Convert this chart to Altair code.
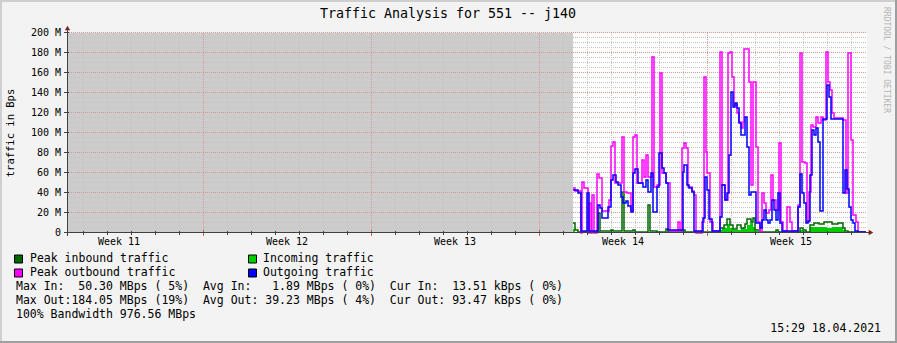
import altair as alt
import pandas as pd

# ---------------- data (x = hours since left edge of plot, values in M) ----------------
out_h = [506, 511, 514, 520, 522, 531, 533, 535, 541, 544, 546, 549, 551, 554, 556, 559, 561, 564,
         566, 568, 571, 576, 579, 581, 584, 586, 590, 592, 595, 597, 599, 601, 616, 617, 620, 622,
         625, 627, 636, 638, 640, 642, 645, 653, 655, 658, 660, 662, 664, 666, 668, 670, 672, 674,
         678, 680, 682, 684, 689, 693, 695, 697, 699, 701, 703, 705, 707, 709, 711, 713, 715, 731,
         733, 735, 737, 739, 741, 743, 745, 747, 749, 751, 753, 756, 760, 762, 764, 776, 778, 780,
         782, 784, 786, 788, 791, 799]
out_v = [43, 40, 2, 40, 2, 28, 25, 15, 26, 53, 58, 51, 48, 36, 30, 32, 27, 21,
         60, 64, 50, 46, 53, 41, 60, 21, 46, 80, 65, 60, 50, 3, 61, 68, 48, 45,
         41, 2, 15, 56, 43, 14, 2, 16, 48, 33, 40, 78, 141, 126, 130, 125, 110, 98,
         116, 86, 38, 41, 10, 5, 13, 23, 13, 10, 13, 33, 23, 13, 40, 10, 2, 26,
         59, 40, 30, 10, 12, 58, 103, 98, 105, 91, 22, 114, 148, 136, 114, 40, 63, 44,
         26, 13, 10, 2, 1, 1]

peakout_h = [506, 508, 514, 515, 517, 521, 522, 524, 525, 527, 530, 532, 535, 542, 544, 546, 548, 555,
             557, 560, 564, 566, 568, 570, 575, 577, 579, 581, 585, 587, 590, 593, 595, 599, 603, 611,
             613, 615, 617, 619, 621, 625, 627, 629, 635, 637, 639, 640, 643, 646, 653, 655, 658, 661,
             663, 665, 667, 670, 672, 674, 676, 677, 682, 684, 686, 689, 691, 693, 695, 697, 699, 702,
             704, 706, 709, 712, 714, 716, 720, 723, 725, 731, 733, 735, 738, 740, 742, 744, 746, 749,
             751, 754, 756, 759, 761, 763, 765, 767, 776, 779, 781, 784, 786, 789, 791, 799]
peakout_v = [45, 42, 0, 51, 45, 0, 30, 0, 38, 0, 59, 55, 22, 33, 87, 91, 50, 96,
             41, 40, 22, 96, 98, 50, 73, 56, 78, 56, 176, 46, 48, 160, 60, 50, 2, 11,
             2, 85, 90, 85, 46, 42, 38, 0, 11, 156, 81, 60, 11, 2, 181, 48, 33, 180,
             181, 156, 128, 120, 111, 105, 111, 184, 151, 48, 151, 86, 11, 1, 40, 30, 20, 23,
             58, 33, 23, 90, 11, 2, 26, 11, 2, 28, 180, 71, 70, 11, 41, 108, 106, 116,
             110, 116, 113, 181, 151, 143, 120, 115, 113, 40, 180, 93, 18, 11, 1, 1]

peakin_h = [506, 508, 511, 531, 533, 544, 546, 555, 557, 566, 568, 581, 583, 590, 599, 601, 616, 618,
            625, 653, 657, 660, 663, 666, 670, 674, 678, 680, 684, 686, 688, 693, 709, 711, 733, 736,
            739, 743, 747, 752, 757, 765, 771, 776, 778, 781, 799]
peakin_v = [10, 3, 1, 20, 2, 3, 2, 41, 2, 3, 1, 28, 2, 1, 4, 1, 3, 1,
            1, 5, 8, 14, 8, 4, 8, 5, 9, 14, 11, 15, 3, 1, 3, 1, 5, 3,
            1, 8, 10, 9, 11, 9, 10, 5, 2, 1, 1]

in_h = [506, 508, 531, 533, 555, 557, 581, 583, 653, 655, 660, 663, 666, 674, 677, 680, 683, 686,
        688, 693, 709, 711, 733, 736, 739, 743, 747, 760, 765, 776, 778, 799]
in_v = [4, 1, 2, 0.5, 1, 0.5, 1, 0.5, 3, 5, 9, 5, 3, 5, 4, 8, 10, 6,
        2, 1, 1, 0.5, 3, 2, 1, 6, 6, 5, 6, 3, 1, 1]

unknown_span = [0, 506]          # hours without data (grey)
y_ticks = [0, 20, 40, 60, 80, 100, 120, 140, 160, 180, 200]
week_names = ["Week 11", "Week 12", "Week 13", "Week 14", "Week 15"]
week_mid_h = [52, 220, 388, 556, 724]
week_start_h = [136, 304, 472, 640]
day_h = list(range(16, 800, 24))
minor_y = list(range(5, 200, 5))

legend_rows = [
    ("Peak inbound traffic", "#006600", "Incoming traffic", "#00cc00"),
    ("Peak outbound traffic", "#ff00ff", "Outgoing traffic", "#0000ff"),
]
stats = [
    "Max In:  50.30 MBps ( 5%)  Avg In:   1.89 MBps ( 0%)  Cur In:  13.51 kBps ( 0%)",
    "Max Out:184.05 MBps (19%)  Avg Out: 39.23 MBps ( 4%)  Cur Out: 93.47 kBps ( 0%)",
    "100% Bandwidth 976.56 MBps",
]
title = "Traffic Analysis for 551 -- j140"
stamp = "15:29 18.04.2021"

# ---------------- chart ----------------
FONT = "DejaVu Sans Mono"
XS = alt.Scale(domain=[0, 800], nice=False, zero=False)
YS = alt.Scale(domain=[0, 200], nice=False)


def nb(s):
    return s.replace(" ", "\u00a0")


def X(f="h"):
    return alt.X(f"{f}:Q", scale=XS, axis=None)


def Y(f="v"):
    return alt.Y(f"{f}:Q", scale=YS, axis=None)


def text(s, x, y, size=11.5, align="left", color="#000000", angle=0):
    return alt.Chart(pd.DataFrame({"t": [nb(s)]})).mark_text(
        align=align, baseline="middle", font=FONT, fontSize=size, color=color, angle=angle
    ).encode(x=alt.value(x), y=alt.value(y), text="t:N")


layers = []

# unknown area
layers.append(alt.Chart(pd.DataFrame({"a": [unknown_span[0]], "b": [unknown_span[1]], "lo": [0], "hi": [200]}))
              .mark_rect(color="#cccccc").encode(x=X("a"), x2="b", y=Y("lo"), y2="hi"))

# grid (half-pixel offsets keep the dotted lines crisp)
layers.append(alt.Chart(pd.DataFrame({"v": minor_y})).mark_rule(color="#c4c4c4", strokeDash=[1, 1], strokeWidth=1, yOffset=-0.5)
              .encode(y=Y("v"), x=alt.value(0), x2=alt.value(800)))
layers.append(alt.Chart(pd.DataFrame({"h": day_h})).mark_rule(color="#c4c4c4", strokeDash=[1, 1], strokeWidth=1, xOffset=0.5)
              .encode(x=X("h"), y=alt.value(0), y2=alt.value(200)))
layers.append(alt.Chart(pd.DataFrame({"v": y_ticks[1:]})).mark_rule(color="#d49a9a", strokeDash=[1, 1], strokeWidth=1, yOffset=-0.5)
              .encode(y=Y("v"), x=alt.value(0), x2=alt.value(800)))
layers.append(alt.Chart(pd.DataFrame({"h": week_start_h})).mark_rule(color="#d49a9a", strokeDash=[1, 1], strokeWidth=1, xOffset=0.5)
              .encode(x=X("h"), y=alt.value(0), y2=alt.value(200)))

# series
LW = 1.5
layers.append(alt.Chart(pd.DataFrame({"h": in_h, "v": in_v})).mark_area(interpolate="step-after", color="#00cc00", opacity=1)
              .encode(x=X(), y=Y()))
layers.append(alt.Chart(pd.DataFrame({"h": peakin_h, "v": peakin_v})).mark_line(interpolate="step-after", color="#006600", strokeWidth=LW)
              .encode(x=X(), y=Y()))
layers.append(alt.Chart(pd.DataFrame({"h": peakout_h, "v": peakout_v})).mark_line(interpolate="step-after", color="#ff00ff", strokeWidth=LW)
              .encode(x=X(), y=Y()))
layers.append(alt.Chart(pd.DataFrame({"h": out_h, "v": out_v})).mark_line(interpolate="step-after", color="#0000ff", strokeWidth=LW)
              .encode(x=X(), y=Y()))

# axes lines, ticks and arrows
AX = "#404040"
layers.append(alt.Chart(pd.DataFrame({"h": day_h})).mark_rule(color=AX, xOffset=0.5)
              .encode(x=X("h"), y=alt.value(198), y2=alt.value(202)))
layers.append(alt.Chart(pd.DataFrame({"h": week_start_h})).mark_rule(color="#c06060", xOffset=0.5)
              .encode(x=X("h"), y=alt.value(197), y2=alt.value(203)))
layers.append(alt.Chart(pd.DataFrame({"v": y_ticks})).mark_rule(color=AX, yOffset=-0.5)
              .encode(y=Y("v"), x=alt.value(-3), x2=alt.value(2)))
layers.append(alt.Chart(pd.DataFrame({"v": [0]})).mark_rule(color=AX)
              .encode(x=alt.value(-3), x2=alt.value(803), y=alt.value(199.5)))
layers.append(alt.Chart(pd.DataFrame({"v": [0]})).mark_rule(color=AX)
              .encode(x=alt.value(0.5), y=alt.value(-4), y2=alt.value(203)))
layers.append(alt.Chart(pd.DataFrame({"v": [0]})).mark_point(shape="triangle-up", filled=True, color="#7f1f1f", size=28, opacity=1)
              .encode(x=alt.value(0.5), y=alt.value(-5)))
layers.append(alt.Chart(pd.DataFrame({"v": [0]})).mark_point(shape="triangle-right", filled=True, color="#7f1f1f", size=28, opacity=1)
              .encode(x=alt.value(804), y=alt.value(199.5)))

# tick labels
layers.append(alt.Chart(pd.DataFrame({"v": y_ticks})).transform_calculate(
    lab="datum.v == 0 ? '0' : datum.v + '\u00a0M'").mark_text(
    align="right", baseline="middle", font=FONT, fontSize=10, color="#000000")
    .encode(y=Y("v"), x=alt.value(-6), text="lab:N"))
layers.append(alt.Chart(pd.DataFrame({"h": week_mid_h, "t": [nb(w) for w in week_names]})).mark_text(
    align="center", baseline="middle", font=FONT, fontSize=10, color="#000000")
    .encode(x=X("h"), y=alt.value(209), text="t:N"))

# titles
layers.append(text(title, 381, -19, size=13.3, align="center"))
layers.append(text("traffic in Bps", -56, 100, size=10.5, align="center", angle=270))
layers.append(text("RRDTOOL / TOBI OETIKER", 819, 27, size=8, align="center", color="#b4b4b4", angle=90))

# legend
row_y = [226, 240]
for (l1, c1, l2, c2), yy in zip(legend_rows, row_y):
    for lab, col, xs, xt in [(l1, c1, -48.5, -37), (l2, c2, 185.5, 196)]:
        layers.append(alt.Chart(pd.DataFrame({"v": [0]})).mark_square(
            size=64, color=col, filled=True, stroke="#000000", strokeWidth=1, opacity=1)
            .encode(x=alt.value(xs), y=alt.value(yy)))
        layers.append(text(lab, xt, yy))
for s, yy in zip(stats, [254, 268, 282]):
    layers.append(text(s, -51, yy))
layers.append(text(stamp, 814, 296, align="right"))

# border (3D frame)
layers.append(alt.Chart(pd.DataFrame({"v": [0]})).mark_rule(color="#cfcfcf", strokeWidth=2)
              .encode(x=alt.value(-67), x2=alt.value(830), y=alt.value(-32)))
layers.append(alt.Chart(pd.DataFrame({"v": [0]})).mark_rule(color="#cfcfcf", strokeWidth=2)
              .encode(x=alt.value(-66), y=alt.value(-33), y2=alt.value(310)))
layers.append(alt.Chart(pd.DataFrame({"v": [0]})).mark_rule(color="#9e9e9e", strokeWidth=2)
              .encode(x=alt.value(-67), x2=alt.value(830), y=alt.value(309)))
layers.append(alt.Chart(pd.DataFrame({"v": [0]})).mark_rule(color="#9e9e9e", strokeWidth=2)
              .encode(x=alt.value(829), y=alt.value(-33), y2=alt.value(310)))

chart = alt.layer(*layers).properties(
    width=800, height=200,
    autosize=alt.AutoSizeParams(type="none"),
    padding={"left": 67, "top": 33, "right": 30, "bottom": 110},
    background="#f3f3f3",
).configure_view(stroke=None, fill="#ffffff")

chart.save("out.html", embed_options={"renderer": "svg", "actions": False})
